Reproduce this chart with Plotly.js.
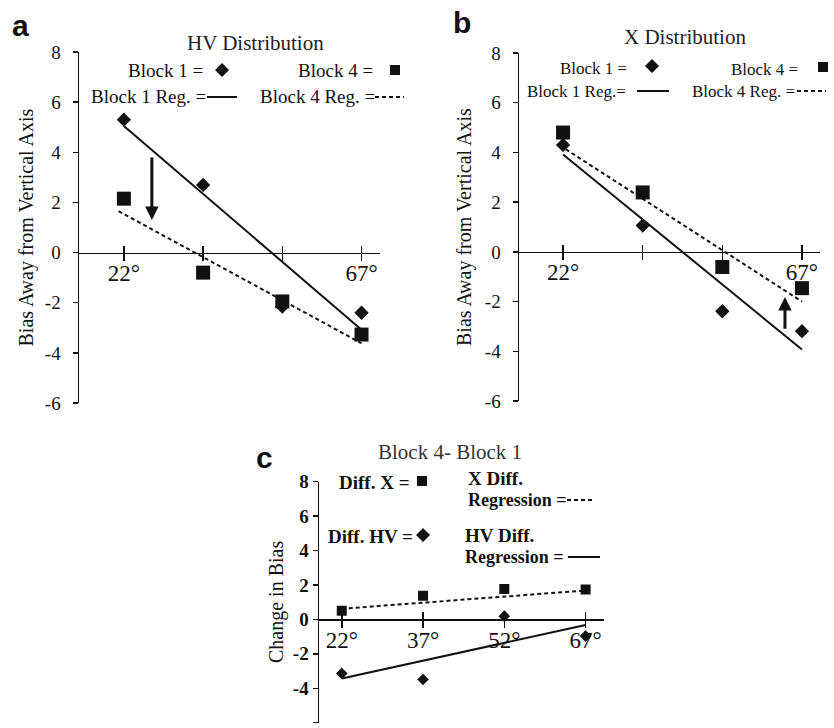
<!DOCTYPE html>
<html><head><meta charset="utf-8">
<script src="https://cdn.plot.ly/plotly-3.0.1.min.js"></script>
<style>html,body{margin:0;padding:0;background:#fff}#chart{width:834px;height:728px}</style>
</head><body><div id="chart"></div>
<script>
// ---------- data ----------
const angles = [22, 37, 52, 67];
const tickLabelsAB = ['22°', '', '', '67°'];
const tickLabelsC = ['22°', '37°', '52°', '67°'];
const yTickVals = [-6, -4, -2, 0, 2, 4, 6, 8];
const yTickText = ['-6', '-4', '-2', '0', '2', '4', '6', '8'];

// Panel a: HV Distribution
const hvBlock1 = [5.3, 2.7, -2.15, -2.4];
const hvBlock4 = [2.15, -0.8, -1.95, -3.27];
const hvReg1X = [22, 67];
const hvReg1Y = [5.05, -3.08];
const hvReg4X = [21, 67];
const hvReg4Y = [1.65, -3.62];
const hvArrowX = 27.3, hvArrowFrom = 3.85, hvArrowTo = 1.3;

// Panel b: X Distribution
const xBlock1 = [4.3, 1.06, -2.39, -3.19];
const xBlock4 = [4.8, 2.39, -0.61, -1.46];
const xReg1X = [22, 67];
const xReg1Y = [3.92, -3.93];
const xReg4X = [22.5, 67];
const xReg4Y = [4.13, -2.0];
const xArrowX = 63.8, xArrowFrom = -3.15, xArrowTo = -1.82;

// Panel c: Block 4 - Block 1
const diffX = [0.5, 1.37, 1.76, 1.74];
const diffHV = [-3.14, -3.49, 0.19, -0.97];
const diffXRegX = [22, 67];
const diffXRegY = [0.62, 1.68];
const diffHVRegX = [22, 67];
const diffHVRegY = [-3.43, -0.33];

// ---------- helpers ----------
const W = 834, H = 728;
const px = x => x / W;
const py = y => 1 - y / H;
const INK = '#111';
const SERIF = 'Liberation Serif, Times New Roman, serif';
const DASH = '4px,3px';

const panels = {
  a: {xd: [px(79), px(380)], yd: [py(403), py(52)], xr: [13.5, 70.5]},
  b: {xd: [px(519), px(820)], yd: [py(401), py(53)], xr: [13.7, 70.4]},
  c: {xd: [px(319), px(604)], yd: [py(722.7), py(481.7)], xr: [17.8, 70.4]}
};
const yRange = [-6, 8];
function zeroPos(p) { return p.yd[0] + (0 - yRange[0]) / (yRange[1] - yRange[0]) * (p.yd[1] - p.yd[0]); }

function mk(xa, ya, x, y, sym, size) {
  return {x: x, y: y, xaxis: xa, yaxis: ya, mode: 'markers', type: 'scatter',
    marker: {symbol: sym, size: size, color: INK}, showlegend: false, hoverinfo: 'skip'};
}
function ln(xa, ya, x, y, dash) {
  return {x: x, y: y, xaxis: xa, yaxis: ya, mode: 'lines', type: 'scatter',
    line: {color: INK, width: 2, dash: dash}, showlegend: false, hoverinfo: 'skip'};
}
function dummy(xa, ya) {
  return {x: [null], y: [null], xaxis: xa, yaxis: ya, mode: 'markers', type: 'scatter', showlegend: false, hoverinfo: 'skip'};
}

const traces = [
  ln('x', 'y', hvReg1X, hvReg1Y, 'solid'),
  ln('x', 'y', hvReg4X, hvReg4Y, DASH),
  mk('x', 'y', angles, hvBlock1, 'diamond', 11),
  mk('x', 'y', angles, hvBlock4, 'square', 14),
  ln('x2', 'y2', xReg1X, xReg1Y, 'solid'),
  ln('x2', 'y2', xReg4X, xReg4Y, DASH),
  mk('x2', 'y2', angles, xBlock1, 'diamond', 11),
  mk('x2', 'y2', angles, xBlock4, 'square', 14),
  ln('x3', 'y3', diffXRegX, diffXRegY, DASH),
  ln('x3', 'y3', diffHVRegX, diffHVRegY, 'solid'),
  mk('x3', 'y3', angles, diffX, 'square', 10),
  mk('x3', 'y3', angles, diffHV, 'diamond', 9),
  dummy('x4', 'y'), dummy('x5', 'y2'), dummy('x6', 'y3')
];

function xAxis(p, labels) {
  return {domain: p.xd, range: p.xr, anchor: 'free', position: zeroPos(p),
    showline: true, linecolor: INK, linewidth: 1.5, ticks: 'outside', ticklen: 7, tickwidth: 1.5, tickcolor: INK,
    tickvals: angles, ticktext: labels, tickfont: {family: SERIF, size: 23, color: INK}, ticklabelstandoff: -8,
    showgrid: false, zeroline: false, fixedrange: true};
}
function xOver(base, p) {
  return {overlaying: base, range: p.xr, anchor: 'free', position: zeroPos(p), showline: false,
    ticks: 'inside', ticklen: 7, tickwidth: 1.5, tickcolor: INK, tickvals: angles,
    showticklabels: false, showgrid: false, zeroline: false, fixedrange: true};
}
function yAxis(p, xa, bold, standoff) {
  return {domain: p.yd, range: yRange, anchor: xa, showline: true, linecolor: INK, linewidth: 1.5,
    ticks: 'outside', ticklen: 5, tickwidth: 1.5, tickcolor: INK, tickvals: yTickVals, ticktext: yTickText,
    tickfont: {family: SERIF, size: 19, color: INK, weight: bold ? 'bold' : 'normal'}, ticklabelstandoff: standoff,
    showgrid: false, zeroline: false, fixedrange: true};
}

function txt(text, x, y, opts) {
  return Object.assign({text: text, xref: 'paper', yref: 'paper', x: px(x), y: py(y), showarrow: false,
    xanchor: 'left', yanchor: 'middle', font: {family: SERIF, size: 19, color: INK}}, opts || {});
}
function small(text, x, y) { return txt(text, x, y, {font: {family: SERIF, size: 17, color: INK}}); }
function bold(text, x, y, s) { return txt(text, x, y, {font: {family: SERIF, size: s || 19, color: INK, weight: 'bold'}}); }
function arrow(xr, yr, x, from, to) {
  return {xref: xr, yref: yr, axref: xr, ayref: yr, x: x, y: to, ax: x, ay: from, text: '', showarrow: true,
    arrowhead: 2, arrowsize: 0.9, arrowwidth: 3, arrowcolor: INK, standoff: 0, startstandoff: 0};
}
const SANSB = {family: 'Liberation Sans, Arial, sans-serif', size: 30, color: INK, weight: 'bold'};

const annotations = [
  // panel letters
  txt('a', 20, 26, {xanchor: 'center', font: SANSB}),
  txt('b', 462, 22, {xanchor: 'center', font: SANSB}),
  txt('c', 264, 457, {xanchor: 'center', font: SANSB}),
  // titles
  txt('HV Distribution', 255, 43, {xanchor: 'center', font: {family: SERIF, size: 21, color: '#222'}}),
  txt('X Distribution', 685, 37, {xanchor: 'center', font: {family: SERIF, size: 21, color: '#222'}}),
  txt('Block 4- Block 1', 450, 452, {xanchor: 'center', font: {family: SERIF, size: 21, color: '#333'}}),
  // y titles
  txt('Bias Away from Vertical Axis', 26, (52 + 403) / 2, {xanchor: 'center', textangle: -90, font: {family: SERIF, size: 20, color: INK}}),
  txt('Bias Away from Vertical Axis', 464, (53 + 401) / 2, {xanchor: 'center', textangle: -90, font: {family: SERIF, size: 20, color: INK}}),
  txt('Change in Bias', 276, 602, {xanchor: 'center', textangle: -90, font: {family: SERIF, size: 20, color: INK}}),
  // legend panel a
  txt('Block 1 =', 126, 71), txt('Block 4 =', 296, 71),
  txt('Block 1 Reg. =', 89, 97), txt('Block 4 Reg. =', 258, 97),
  // legend panel b
  small('Block 1 =', 558, 68), small('Block 4 =', 729, 69),
  small('Block 1 Reg.=', 525, 91), small('Block 4 Reg. =', 690, 91),
  // legend panel c
  bold('Diff. X =', 337, 482), bold('X Diff.', 466, 478), bold('Regression =', 466, 500, 18),
  bold('Diff. HV =', 326, 536), bold('HV Diff.', 463, 535), bold('Regression =', 463, 557, 18),
  // arrows
  arrow('x', 'y', hvArrowX, hvArrowFrom, hvArrowTo),
  arrow('x2', 'y2', xArrowX, xArrowFrom, xArrowTo)
];

function sq(x, y, h) {
  return {type: 'rect', xref: 'paper', yref: 'paper', xsizemode: 'pixel', ysizemode: 'pixel',
    xanchor: px(x), yanchor: py(y), x0: -h, x1: h, y0: -h, y1: h, fillcolor: INK, line: {width: 0}};
}
function dm(x, y, h) {
  return {type: 'path', xref: 'paper', yref: 'paper', xsizemode: 'pixel', ysizemode: 'pixel',
    xanchor: px(x), yanchor: py(y), path: `M ${-h} 0 L 0 ${h} L ${h} 0 L 0 ${-h} Z`, fillcolor: INK, line: {width: 0}};
}
function sample(x0, x1, y, dash) {
  return {type: 'line', xref: 'paper', yref: 'paper', x0: px(x0), x1: px(x1), y0: py(y), y1: py(y),
    line: {color: INK, width: 2, dash: dash}};
}
const shapes = [
  dm(222, 70, 7), sq(395, 70, 5), sample(207, 237, 97, 'solid'), sample(375, 404, 97, DASH),
  dm(652, 66, 7), sq(823, 67, 5), sample(637, 669, 91, 'solid'), sample(797, 826, 91, DASH),
  sq(422, 481, 5), dm(423, 535, 7), sample(567, 595, 500, DASH), sample(568, 600, 557, 'solid')
];

const layout = {
  width: W, height: H, margin: {l: 0, r: 0, t: 0, b: 0},
  paper_bgcolor: '#fff', plot_bgcolor: 'rgba(0,0,0,0)', showlegend: false,
  xaxis: xAxis(panels.a, tickLabelsAB), yaxis: yAxis(panels.a, 'x', false, 8),
  xaxis2: xAxis(panels.b, tickLabelsAB), yaxis2: yAxis(panels.b, 'x2', false, 8),
  xaxis3: xAxis(panels.c, tickLabelsC), yaxis3: yAxis(panels.c, 'x3', true, 0),
  xaxis4: xOver('x', panels.a), xaxis5: xOver('x2', panels.b), xaxis6: xOver('x3', panels.c),
  annotations: annotations, shapes: shapes
};

Plotly.newPlot('chart', traces, layout, {staticPlot: true, displayModeBar: false});
</script>
</body></html>
